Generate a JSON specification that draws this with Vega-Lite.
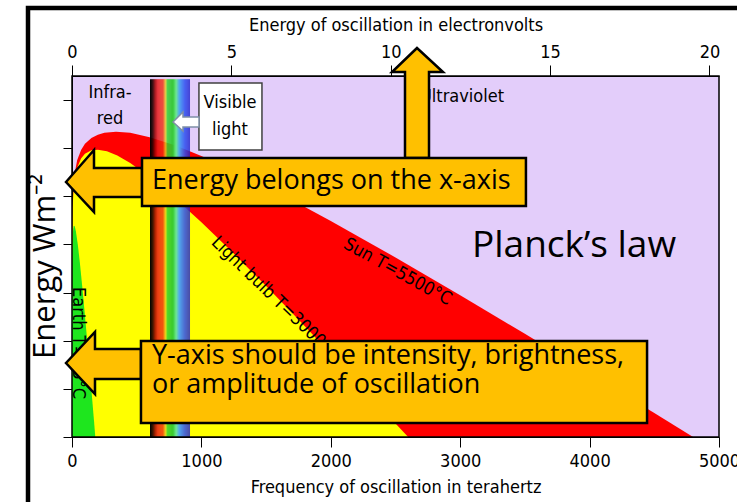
{
  "$schema": "https://vega.github.io/schema/vega-lite/v6.json",
  "width": 647,
  "height": 361,
  "autosize": {"type": "none"},
  "padding": {"left": 72, "top": 76, "right": 18, "bottom": 65},
  "background": "white",
  "config": {"view": {"stroke": null, "fill": "#E3CDFA"}},
  "resolve": {"scale": {"x": "independent"}},
  "layer": [
    {
      "data": {"values": [{"ev": 0}, {"ev": 20}]},
      "mark": {"type": "rule", "opacity": 0},
      "encoding": {
        "x": {"field": "ev", "type": "quantitative", "scale": {"domain": [0, 20.3], "nice": false, "zero": false},
          "axis": {"orient": "top", "title": "Energy of oscillation in electronvolts", "values": [0, 5, 10, 15, 20], "grid": false, "tickSize": 11, "tickColor": "black", "domainColor": "black", "labelFlush": false, "labelBound": false, "labelOverlap": false, "labelFont": "DejaVu Sans Condensed, sans-serif", "labelFontSize": 18, "labelColor": "black", "labelPadding": 4, "titleFont": "DejaVu Sans Condensed, sans-serif", "titleFontSize": 18, "titleFontWeight": "normal", "titleColor": "black", "titlePadding": 9}}
      }
    },
    {
      "layer": [
        {
          "data": {"values": [
            {"f": 0, "v": 0}, {"f": 1, "v": 8.37}, {"f": 5, "v": 9.76}, {"f": 10, "v": 10.35}, {"f": 20, "v": 10.94},
            {"f": 40, "v": 11.5}, {"f": 70, "v": 11.93}, {"f": 100, "v": 12.18}, {"f": 150, "v": 12.42}, {"f": 200, "v": 12.56},
            {"f": 250, "v": 12.64}, {"f": 340, "v": 12.68}, {"f": 450, "v": 12.64}, {"f": 600, "v": 12.46}, {"f": 800, "v": 12.11},
            {"f": 1000, "v": 11.68}, {"f": 1250, "v": 11.07}, {"f": 1500, "v": 10.4}, {"f": 1750, "v": 9.7}, {"f": 2000, "v": 8.97},
            {"f": 2250, "v": 8.22}, {"f": 2500, "v": 7.46}, {"f": 3000, "v": 5.89}, {"f": 3500, "v": 4.29}, {"f": 4000, "v": 2.65},
            {"f": 4500, "v": 1.0}, {"f": 4800, "v": 0}
          ]},
          "mark": {"type": "area", "color": "#FF0000"},
          "encoding": {
            "x": {"field": "f", "type": "quantitative", "title": "Frequency of oscillation in terahertz", "scale": {"domain": [0, 5000], "nice": false, "zero": false},
              "axis": {"title": "Frequency of oscillation in terahertz", "values": [0, 1000, 2000, 3000, 4000, 5000], "format": "d", "grid": false, "tickSize": 10, "tickColor": "black", "domainColor": "black", "labelFlush": false, "labelBound": false, "labelOverlap": false, "labelFont": "DejaVu Sans Condensed, sans-serif", "labelFontSize": 18, "labelColor": "black", "labelPadding": 5, "titleFont": "DejaVu Sans Condensed, sans-serif", "titleFontSize": 18, "titleFontWeight": "normal", "titleColor": "black", "titlePadding": 8}},
            "y": {"field": "v", "type": "quantitative", "title": "Energy Wm⁻²", "scale": {"domain": [0, 15], "nice": false},
              "axis": {"title": "Energy Wm⁻²", "values": [0, 1, 2, 3, 4, 5, 6, 7, 8, 9, 10, 11, 12, 13, 14, 15], "labels": false, "grid": false, "tickSize": 9, "tickColor": "black", "domainColor": "black", "titleFont": "Open Sans", "titleFontSize": 31, "titleFontWeight": "normal", "titleColor": "black", "titleAngle": -90, "titleX": -27, "titleY": 190, "titleAlign": "center", "titleBaseline": "middle"}}
          }
        },
        {
          "data": {"values": [
            {"f": 0, "v": 0}, {"f": 1, "v": 8.12}, {"f": 5, "v": 9.51}, {"f": 10, "v": 10.09}, {"f": 20, "v": 10.66},
            {"f": 40, "v": 11.19}, {"f": 70, "v": 11.57}, {"f": 100, "v": 11.77}, {"f": 150, "v": 11.91}, {"f": 200, "v": 11.94},
            {"f": 270, "v": 11.87}, {"f": 350, "v": 11.7}, {"f": 450, "v": 11.39}, {"f": 600, "v": 10.8}, {"f": 800, "v": 9.9},
            {"f": 1000, "v": 8.92}, {"f": 1250, "v": 7.62}, {"f": 1500, "v": 6.27}, {"f": 1750, "v": 4.88}, {"f": 2000, "v": 3.46},
            {"f": 2250, "v": 2.02}, {"f": 2500, "v": 0.56}, {"f": 2598, "v": 0}
          ]},
          "mark": {"type": "area", "color": "#FFFF00"},
          "encoding": {
            "x": {"field": "f", "type": "quantitative", "title": "Frequency of oscillation in terahertz", "scale": {"domain": [0, 5000], "nice": false, "zero": false}},
            "y": {"field": "v", "type": "quantitative", "title": "Energy Wm⁻²", "scale": {"domain": [0, 15], "nice": false}}
          }
        },
        {
          "data": {"values": [
            {"f": 0, "v": 0}, {"f": 1, "v": 7.03}, {"f": 2, "v": 7.6}, {"f": 4, "v": 8.12}, {"f": 7, "v": 8.48},
            {"f": 10, "v": 8.66}, {"f": 14, "v": 8.76}, {"f": 17, "v": 8.78}, {"f": 22, "v": 8.74}, {"f": 30, "v": 8.55},
            {"f": 45, "v": 7.99}, {"f": 60, "v": 7.28}, {"f": 80, "v": 6.21}, {"f": 100, "v": 5.05}, {"f": 125, "v": 3.54},
            {"f": 150, "v": 1.96}, {"f": 170, "v": 0.68}, {"f": 180, "v": 0}
          ]},
          "mark": {"type": "area", "color": "#1EE61E"},
          "encoding": {
            "x": {"field": "f", "type": "quantitative", "title": "Frequency of oscillation in terahertz", "scale": {"domain": [0, 5000], "nice": false, "zero": false}},
            "y": {"field": "v", "type": "quantitative", "title": "Energy Wm⁻²", "scale": {"domain": [0, 15], "nice": false}}
          }
        },
        {
          "data": {"values": [
            {"f": 603, "g": 612, "lo": 0, "hi": 14.87}, {"f": 611, "g": 620, "lo": 0, "hi": 14.87}, {"f": 619, "g": 628, "lo": 0, "hi": 14.87},
            {"f": 627, "g": 636, "lo": 0, "hi": 14.87}, {"f": 635, "g": 644, "lo": 0, "hi": 14.87}, {"f": 643, "g": 652, "lo": 0, "hi": 14.87},
            {"f": 651, "g": 660, "lo": 0, "hi": 14.87}, {"f": 659, "g": 668, "lo": 0, "hi": 14.87}, {"f": 667, "g": 676, "lo": 0, "hi": 14.87},
            {"f": 675, "g": 684, "lo": 0, "hi": 14.87}, {"f": 683, "g": 692, "lo": 0, "hi": 14.87}, {"f": 691, "g": 700, "lo": 0, "hi": 14.87},
            {"f": 699, "g": 708, "lo": 0, "hi": 14.87}, {"f": 707, "g": 716, "lo": 0, "hi": 14.87}, {"f": 715, "g": 724, "lo": 0, "hi": 14.87},
            {"f": 723, "g": 732, "lo": 0, "hi": 14.87}, {"f": 731, "g": 740, "lo": 0, "hi": 14.87}, {"f": 739, "g": 748, "lo": 0, "hi": 14.87},
            {"f": 747, "g": 756, "lo": 0, "hi": 14.87}, {"f": 755, "g": 764, "lo": 0, "hi": 14.87}, {"f": 763, "g": 772, "lo": 0, "hi": 14.87},
            {"f": 771, "g": 780, "lo": 0, "hi": 14.87}, {"f": 779, "g": 788, "lo": 0, "hi": 14.87}, {"f": 787, "g": 796, "lo": 0, "hi": 14.87},
            {"f": 795, "g": 804, "lo": 0, "hi": 14.87}, {"f": 803, "g": 812, "lo": 0, "hi": 14.87}, {"f": 811, "g": 820, "lo": 0, "hi": 14.87},
            {"f": 819, "g": 828, "lo": 0, "hi": 14.87}, {"f": 827, "g": 836, "lo": 0, "hi": 14.87}, {"f": 835, "g": 844, "lo": 0, "hi": 14.87},
            {"f": 843, "g": 852, "lo": 0, "hi": 14.87}, {"f": 851, "g": 860, "lo": 0, "hi": 14.87}, {"f": 859, "g": 868, "lo": 0, "hi": 14.87},
            {"f": 867, "g": 876, "lo": 0, "hi": 14.87}, {"f": 875, "g": 884, "lo": 0, "hi": 14.87}, {"f": 883, "g": 892, "lo": 0, "hi": 14.87},
            {"f": 891, "g": 900, "lo": 0, "hi": 14.87}, {"f": 899, "g": 908, "lo": 0, "hi": 14.87}, {"f": 907, "g": 912, "lo": 0, "hi": 14.87}
          ]},
          "mark": {"type": "rect"},
          "encoding": {
            "x": {"field": "f", "type": "quantitative", "title": "Frequency of oscillation in terahertz", "scale": {"domain": [0, 5000], "nice": false, "zero": false}},
            "x2": {"field": "g"},
            "y": {"field": "hi", "type": "quantitative", "title": "Energy Wm⁻²", "scale": {"domain": [0, 15], "nice": false}},
            "y2": {"field": "lo"},
            "color": {"field": "f", "type": "quantitative", "legend": null,
              "scale": {"type": "linear", "interpolate": "rgb",
                "domain": [603, 622, 640, 660, 700, 712, 722, 732, 775, 800, 825, 870, 912],
                "range": ["#000000", "#300000", "#A00000", "#E81818", "#F03010", "#F09020", "#E8E020", "#30D030", "#30C830", "#70E890", "#50A8F0", "#3050F0", "#2020C8"]}}
          }
        },
        {
          "data": {"values": [{"a": 0, "b": 5000, "c": 0, "d": 15}]},
          "mark": {"type": "rect", "fillOpacity": 0, "stroke": "black", "strokeWidth": 1.5},
          "encoding": {
            "x": {"field": "a", "type": "quantitative", "title": "Frequency of oscillation in terahertz", "scale": {"domain": [0, 5000], "nice": false, "zero": false}},
            "x2": {"field": "b"},
            "y": {"field": "c", "type": "quantitative", "title": "Energy Wm⁻²", "scale": {"domain": [0, 15], "nice": false}},
            "y2": {"field": "d"}
          }
        },
        {
          "data": {"values": [{"x": 294, "y": 14.29, "t": "Infra-"}, {"x": 294, "y": 13.21, "t": "red"}]},
          "mark": {"type": "text", "font": "DejaVu Sans Condensed, sans-serif", "fontSize": 18, "align": "center", "baseline": "middle", "color": "black"},
          "encoding": {
            "x": {"field": "x", "type": "quantitative", "title": "Frequency of oscillation in terahertz", "scale": {"domain": [0, 5000], "nice": false, "zero": false}},
            "y": {"field": "y", "type": "quantitative", "title": "Energy Wm⁻²", "scale": {"domain": [0, 15], "nice": false}},
            "text": {"field": "t"}
          }
        },
        {
          "data": {"values": [{"x": 2689, "y": 14.13, "t": "Ultraviolet"}]},
          "mark": {"type": "text", "font": "DejaVu Sans Condensed, sans-serif", "fontSize": 18, "align": "left", "baseline": "middle", "color": "black"},
          "encoding": {
            "x": {"field": "x", "type": "quantitative", "title": "Frequency of oscillation in terahertz", "scale": {"domain": [0, 5000], "nice": false, "zero": false}},
            "y": {"field": "y", "type": "quantitative", "title": "Energy Wm⁻²", "scale": {"domain": [0, 15], "nice": false}},
            "text": {"field": "t"}
          }
        },
        {
          "data": {"values": [{"x": 2110, "y": 8.06, "t": "Sun T=5500°C"}]},
          "mark": {"type": "text", "font": "DejaVu Sans Condensed, sans-serif", "fontSize": 18, "align": "left", "baseline": "middle", "angle": 29, "color": "black"},
          "encoding": {
            "x": {"field": "x", "type": "quantitative", "title": "Frequency of oscillation in terahertz", "scale": {"domain": [0, 5000], "nice": false, "zero": false}},
            "y": {"field": "y", "type": "quantitative", "title": "Energy Wm⁻²", "scale": {"domain": [0, 15], "nice": false}},
            "text": {"field": "t"}
          }
        },
        {
          "data": {"values": [{"x": 1097, "y": 8.19, "t": "Light bulb T=3000°C"}]},
          "mark": {"type": "text", "font": "DejaVu Sans Condensed, sans-serif", "fontSize": 18, "align": "left", "baseline": "middle", "angle": 44, "color": "black"},
          "encoding": {
            "x": {"field": "x", "type": "quantitative", "title": "Frequency of oscillation in terahertz", "scale": {"domain": [0, 5000], "nice": false, "zero": false}},
            "y": {"field": "y", "type": "quantitative", "title": "Energy Wm⁻²", "scale": {"domain": [0, 15], "nice": false}},
            "text": {"field": "t"}
          }
        },
        {
          "data": {"values": [{"x": 46, "y": 6.23, "t": "Earth T=15°C"}]},
          "mark": {"type": "text", "font": "DejaVu Sans Condensed, sans-serif", "fontSize": 18, "align": "left", "baseline": "middle", "angle": 90, "color": "black"},
          "encoding": {
            "x": {"field": "x", "type": "quantitative", "title": "Frequency of oscillation in terahertz", "scale": {"domain": [0, 5000], "nice": false, "zero": false}},
            "y": {"field": "y", "type": "quantitative", "title": "Energy Wm⁻²", "scale": {"domain": [0, 15], "nice": false}},
            "text": {"field": "t"}
          }
        },
        {
          "data": {"values": [{"a": 981, "b": 1468, "c": 11.93, "d": 14.71}]},
          "mark": {"type": "rect", "fill": "white", "stroke": "#404040", "strokeWidth": 1.5},
          "encoding": {
            "x": {"field": "a", "type": "quantitative", "title": "Frequency of oscillation in terahertz", "scale": {"domain": [0, 5000], "nice": false, "zero": false}},
            "x2": {"field": "b"},
            "y": {"field": "c", "type": "quantitative", "title": "Energy Wm⁻²", "scale": {"domain": [0, 15], "nice": false}},
            "y2": {"field": "d"}
          }
        },
        {
          "data": {"values": [
            {"x": 780.5, "lo": 13.089, "hi": 13.089},
            {"x": 857.8, "lo": 12.715, "hi": 13.504},
            {"x": 857.81, "lo": 12.881, "hi": 13.296},
            {"x": 981.5, "lo": 12.881, "hi": 13.296}
          ]},
          "mark": {"type": "area", "fill": "white", "stroke": "#7F8FA6", "strokeWidth": 1.5, "strokeJoin": "miter"},
          "encoding": {
            "x": {"field": "x", "type": "quantitative", "title": "Frequency of oscillation in terahertz", "scale": {"domain": [0, 5000], "nice": false, "zero": false}},
            "y": {"field": "hi", "type": "quantitative", "title": "Energy Wm⁻²", "scale": {"domain": [0, 15], "nice": false}},
            "y2": {"field": "lo"}
          }
        },
        {
          "data": {"values": [{"x": 1221, "y": 13.88, "t": "Visible"}, {"x": 1221, "y": 12.76, "t": "light"}]},
          "mark": {"type": "text", "font": "DejaVu Sans Condensed, sans-serif", "fontSize": 18, "align": "center", "baseline": "middle", "color": "black"},
          "encoding": {
            "x": {"field": "x", "type": "quantitative", "title": "Frequency of oscillation in terahertz", "scale": {"domain": [0, 5000], "nice": false, "zero": false}},
            "y": {"field": "y", "type": "quantitative", "title": "Energy Wm⁻²", "scale": {"domain": [0, 15], "nice": false}},
            "text": {"field": "t"}
          }
        },
        {
          "data": {"values": [
            {"id": "a", "x": -46.4, "lo": 10.595, "hi": 10.595},
            {"id": "a", "x": 170.0, "lo": 9.349, "hi": 11.925},
            {"id": "a", "x": 170.01, "lo": 9.972, "hi": 11.177},
            {"id": "a", "x": 541, "lo": 9.972, "hi": 11.177},
            {"id": "b", "x": -46.4, "lo": 3.075, "hi": 3.075},
            {"id": "b", "x": 177.7, "lo": 1.787, "hi": 4.363},
            {"id": "b", "x": 177.71, "lo": 2.41, "hi": 3.656},
            {"id": "b", "x": 533, "lo": 2.41, "hi": 3.656}
          ]},
          "mark": {"type": "area", "fill": "#FFC000", "stroke": "black", "strokeWidth": 2.5, "strokeJoin": "miter"},
          "encoding": {
            "x": {"field": "x", "type": "quantitative", "title": "Frequency of oscillation in terahertz", "scale": {"domain": [0, 5000], "nice": false, "zero": false}},
            "y": {"field": "hi", "type": "quantitative", "title": "Energy Wm⁻²", "scale": {"domain": [0, 15], "nice": false}},
            "y2": {"field": "lo"},
            "detail": {"field": "id"}
          }
        },
        {
          "data": {"values": [
            {"y": 16.163, "l": 2666.2, "r": 2666.2},
            {"y": 15.166, "l": 2473.0, "r": 2867.1},
            {"y": 15.165, "l": 2573.4, "r": 2758.9},
            {"y": 11.59, "l": 2573.4, "r": 2758.9}
          ]},
          "mark": {"type": "area", "orient": "horizontal", "fill": "#FFC000", "stroke": "black", "strokeWidth": 2.5, "strokeJoin": "miter"},
          "encoding": {
            "y": {"field": "y", "type": "quantitative", "title": "Energy Wm⁻²", "scale": {"domain": [0, 15], "nice": false}},
            "x": {"field": "l", "type": "quantitative", "title": "Frequency of oscillation in terahertz", "scale": {"domain": [0, 5000], "nice": false, "zero": false}},
            "x2": {"field": "r"}
          }
        },
        {
          "data": {"values": [
            {"a": 541, "b": 3508, "c": 9.6, "d": 11.59},
            {"a": 533, "b": 4444, "c": 0.58, "d": 3.99}
          ]},
          "mark": {"type": "rect", "fill": "#FFC000", "stroke": "black", "strokeWidth": 2.5},
          "encoding": {
            "x": {"field": "a", "type": "quantitative", "title": "Frequency of oscillation in terahertz", "scale": {"domain": [0, 5000], "nice": false, "zero": false}},
            "x2": {"field": "b"},
            "y": {"field": "c", "type": "quantitative", "title": "Energy Wm⁻²", "scale": {"domain": [0, 15], "nice": false}},
            "y2": {"field": "d"}
          }
        },
        {
          "data": {"values": [
            {"x": 618, "y": 10.64, "t": "Energy belongs on the x-axis"},
            {"x": 618, "y": 3.37, "t": "Y-axis should be intensity, brightness,"},
            {"x": 618, "y": 2.16, "t": "or amplitude of oscillation"}
          ]},
          "mark": {"type": "text", "font": "Open Sans, sans-serif", "fontSize": 27, "align": "left", "baseline": "middle", "color": "black"},
          "encoding": {
            "x": {"field": "x", "type": "quantitative", "title": "Frequency of oscillation in terahertz", "scale": {"domain": [0, 5000], "nice": false, "zero": false}},
            "y": {"field": "y", "type": "quantitative", "title": "Energy Wm⁻²", "scale": {"domain": [0, 15], "nice": false}},
            "text": {"field": "t"}
          }
        },
        {
          "data": {"values": [{"x": 3091, "y": 7.94, "t": "Planck’s law"}]},
          "mark": {"type": "text", "font": "Open Sans, sans-serif", "fontSize": 37, "align": "left", "baseline": "middle", "color": "black"},
          "encoding": {
            "x": {"field": "x", "type": "quantitative", "title": "Frequency of oscillation in terahertz", "scale": {"domain": [0, 5000], "nice": false, "zero": false}},
            "y": {"field": "y", "type": "quantitative", "title": "Energy Wm⁻²", "scale": {"domain": [0, 15], "nice": false}},
            "text": {"field": "t"}
          }
        },
        {
          "data": {"values": [{"a": -340, "b": 7000, "c": -5, "d": 17.83}]},
          "mark": {"type": "rect", "fillOpacity": 0, "stroke": "black", "strokeWidth": 4.5},
          "encoding": {
            "x": {"field": "a", "type": "quantitative", "title": "Frequency of oscillation in terahertz", "scale": {"domain": [0, 5000], "nice": false, "zero": false}},
            "x2": {"field": "b"},
            "y": {"field": "c", "type": "quantitative", "title": "Energy Wm⁻²", "scale": {"domain": [0, 15], "nice": false}},
            "y2": {"field": "d"}
          }
        }
      ]
    }
  ]
}
